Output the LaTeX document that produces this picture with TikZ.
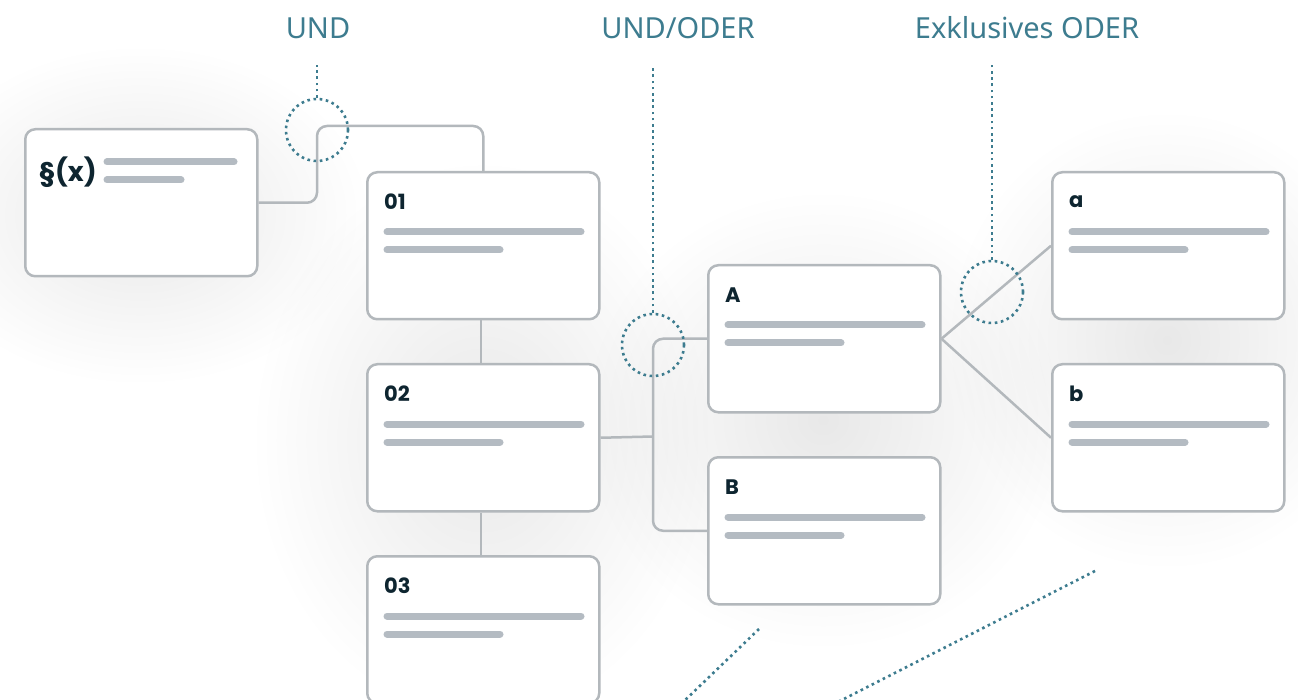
\documentclass[tikz,border=0pt]{standalone}
\usepackage{fontspec}
\setmainfont{Poppins}
\newfontfamily\toplblfont{Noto Sans}
\usetikzlibrary{fadings,calc}
\tikzfading[name=softglow, inner color=transparent!0, outer color=transparent!100]
\definecolor{boxgray}{HTML}{B3B8BC}
\definecolor{bargray}{HTML}{B4BBC2}
\definecolor{teal}{HTML}{3D7C8F}
\definecolor{ink}{HTML}{0E2530}
\begin{document}
\begin{tikzpicture}[x=1pt,y=-1pt,
  box/.style={draw=boxgray, line width=2.5pt, rounded corners=10pt, fill=white,
    minimum width=232pt, minimum height=147pt, anchor=north west, inner sep=0pt},
  glow/.style={fill=black, opacity=0.09, path fading=softglow},
  conn/.style={draw=boxgray, line width=2.5pt},
  bar/.style={draw=bargray, line width=7pt, line cap=round},
  lbl/.style={font=\fontsize{21}{24}\selectfont\bfseries, text=ink, anchor=west, inner sep=0pt},
  ring/.style={circle, draw=teal, line width=2.6pt, dash pattern=on 2.6pt off 3.6pt, minimum size=62pt, inner sep=0pt},
  dotline/.style={draw=teal, line width=2.6pt, dash pattern=on 2.6pt off 3.6pt},
  toplbl/.style={font=\toplblfont\fontsize{29}{32}\selectfont, text=teal, inner sep=0pt}
]
\useasboundingbox[fill=white] (0,0) rectangle (1298,700);

% soft background glows
\fill[glow] (140,215) ellipse [x radius=230pt, y radius=170pt];
\fill[glow] (482,440) ellipse [x radius=230pt, y radius=280pt];
\fill[glow] (823,420) ellipse [x radius=240pt, y radius=230pt];
\fill[glow] (1167,340) ellipse [x radius=220pt, y radius=230pt];

% top labels
\node[toplbl] (t1) at (318,28) {UND};
\node[toplbl] (t2) at (678,28) {UND/ODER};
\node[toplbl] (t3) at (1027,28) {Exklusives ODER};

% boxes
\node[box] (sx) at (24,128) {};
\node[box] (n01) at (366,171) {};
\node[box] (n02) at (366,363) {};
\node[box] (n03) at (366,555) {};
\node[box] (A) at (707,264) {};
\node[box] (B) at (707,456) {};
\node[box] (a) at (1051,171) {};
\node[box] (b) at (1051,363) {};

% connectors
\draw[conn, rounded corners=10pt] (sx.east) -| (317,126) -| (n01.north);
\draw[conn] (n01.south -| 481,0) -- (n02.north -| 481,0);
\draw[conn] (n02.south -| 481,0) -- (n03.north -| 481,0);
\draw[conn] (n02.east) -- (653,436.5);
\draw[conn, rounded corners=10pt] (A.west) -| (653,436.5) |- (B.west);
\draw[conn] (A.east) -- (a.west);
\draw[conn] (A.east) -- (b.west);

% box contents
\node[font=\fontsize{27}{30}\selectfont\bfseries, text=ink, anchor=west, inner sep=0pt] (sxl) at (39,172) {§(x)};
\draw[bar] (107,162) -- (234,162);
\draw[bar] (107,180) -- (181,180);

\foreach \n/\t in {n01/01,n02/02,n03/03,A/A,B/B,a/a,b/b}{
  \node[lbl] (\n-l) at ($(\n.north west)+(18,31)$) {\t};
  \draw[bar] ($(\n.north west)+(21,61)$) -- ($(\n.north west)+(215,61)$);
  \draw[bar] ($(\n.north west)+(21,79)$) -- ($(\n.north west)+(134,79)$);
}

% dotted markers
\node[ring] (c1) at (317,130) {};
\node[ring] (c2) at (653,345) {};
\node[ring] (c3) at (992,292) {};
\draw[dotline] (c1.north) -- (317,65);
\draw[dotline] (c2.north) -- (653,65);
\draw[dotline] (c3.north) -- (992,65);

\coordinate (d1a) at (759,629);
\coordinate (d1b) at (680,705);
\coordinate (d2a) at (1095,571);
\coordinate (d2b) at (832,705);
\draw[dotline] (d1a) -- (d1b);
\draw[dotline] (d2a) -- (d2b);
\end{tikzpicture}
\end{document}
